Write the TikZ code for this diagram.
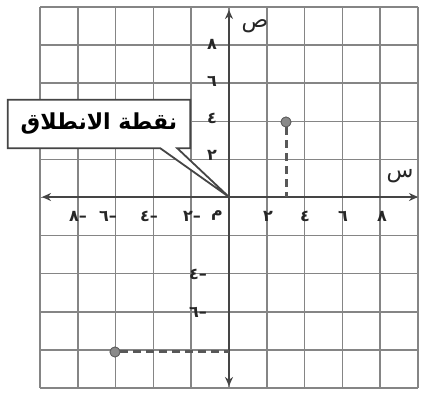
\documentclass[tikz,border=0pt]{standalone}
\usepackage{fontspec}
\newfontfamily\arabicfont[Script=Arabic]{DejaVu Sans}
\TeXXeTstate=1
\usetikzlibrary{arrows.meta,calc}
\definecolor{gridc}{HTML}{858585}
\definecolor{axisc}{HTML}{454545}
\definecolor{dotc}{HTML}{8A8A8A}
\begin{document}
\begin{tikzpicture}[x=1pt,y=-1pt,
  gridline/.style={draw=gridc,line width=1.5pt},
  axisline/.style={draw=axisc,line width=2.4pt,{Stealth[length=9pt,width=8pt]}-{Stealth[length=9pt,width=8pt]}},
  dashline/.style={draw=axisc!90,line width=3pt,dash pattern=on 8pt off 5pt},
  dot/.style={circle,fill=dotc,draw=gridc!70!black,line width=0.8pt,minimum size=10pt,inner sep=0pt},
  numlbl/.style={font=\arabicfont\fontsize{16}{16}\selectfont\bfseries,text=black!85,inner sep=0pt},
  axlbl/.style={font=\arabicfont\fontsize{22}{22}\selectfont,text=black!85,inner sep=0pt},
  callbox/.style={minimum width=182pt,minimum height=48pt,inner sep=0pt,
    font=\arabicfont\fontsize{22}{22}\selectfont\bfseries}]
\useasboundingbox (0,0) rectangle (421,395);
\fill[white] (0,0) rectangle (421,395);
% grid
\foreach \i in {0,...,10}{
  \draw[gridline] ({40+\i*37.8},7) -- ({40+\i*37.8},388);
  \draw[gridline] (40,{7+\i*38.1}) -- (418,{7+\i*38.1});
}
% axes
\coordinate (O) at (229,197);
\coordinate (xl) at (42,197);
\coordinate (xr) at (418,197);
\coordinate (yt) at (229,10);
\coordinate (yb) at (229,386);
\draw[axisline] (xl) -- (xr);
\draw[axisline] (yb) -- (yt);
% axis labels
\node[axlbl] (sad) at (255,26) {ص};
\node[axlbl] (sin) at (400,176) {س};
% x labels
\node[numlbl] (xp2) at (268,216) {٢};
\node[numlbl] (xp4) at (305,216) {٤};
\node[numlbl] (xp6) at (343,216) {٦};
\node[numlbl] (xp8) at (382,216) {٨};
\node[numlbl] (m) at (217,216) {م};
\node[numlbl] (xm2) at (192,216) {–٢};
\node[numlbl] (xm4) at (149,216) {–٤};
\node[numlbl] (xm6) at (108,216) {–٦};
\node[numlbl] (xm8) at (78,216) {–٨};
% y labels
\node[numlbl] (yp8) at (212,44) {٨};
\node[numlbl] (yp6) at (212,81) {٦};
\node[numlbl] (yp4) at (212,118) {٤};
\node[numlbl] (yp2) at (212,155) {٢};
\node[numlbl] (ym4) at (198,274) {–٤};
\node[numlbl] (ym6) at (198,312) {–٦};
% points and dashed lines
\node[dot] (P) at (286,122) {};
\coordinate (Px) at (286,197);
\draw[dashline] (P) -- (Px);
\node[dot] (Q) at (115,352) {};
\coordinate (Qy) at (229,352);
\draw[dashline] (Q) -- (Qy);
\node[dot] at (P) {};
\node[dot] at (Q) {};
% callout
\node[callbox] (call) at (99,124) {\beginR نقطة الانطلاق\endR};
\fill[white,draw=axisc,line width=1.8pt,line join=miter]
  (call.north west) -- (call.north east) -- (call.south east)
  -- ([xshift=-13pt]call.south east) -- (O) -- ([xshift=-30pt]call.south east)
  -- (call.south west) -- cycle;
\node[callbox] at (call) {\beginR نقطة الانطلاق\endR};
\end{tikzpicture}
\end{document}
